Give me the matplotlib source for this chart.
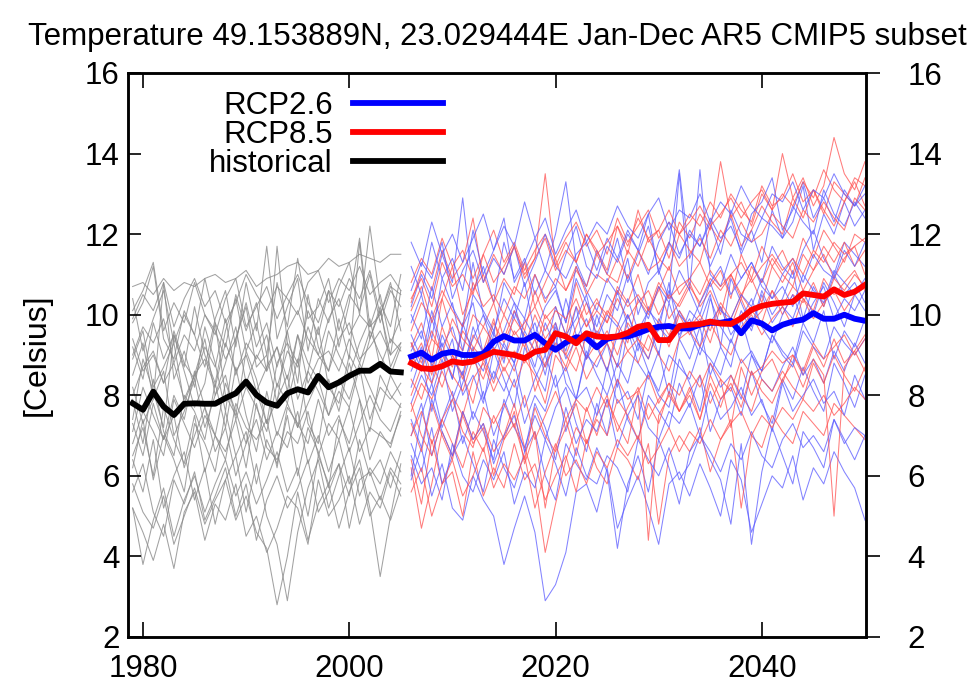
import numpy as np
import matplotlib
matplotlib.use("Agg")
import matplotlib.pyplot as plt

plt.rcParams['font.family'] = ['Liberation Sans', 'DejaVu Sans']

# ---------------- data ----------------
hist_years = list(range(1979, 2006))
rcp_years = list(range(2006, 2051))

hist_mean = [7.80, 7.64, 8.09, 7.72, 7.51, 7.79, 7.80, 7.79, 7.79, 7.93, 8.05, 8.34, 8.01, 7.82,
             7.74, 8.05, 8.15, 8.07, 8.48, 8.20, 8.32, 8.48, 8.61, 8.61, 8.78, 8.59, 8.57]

rcp26_mean = [8.96, 9.06, 8.88, 9.03, 9.08, 9.00, 9.00, 9.03, 9.33,
              9.47, 9.36, 9.36, 9.50, 9.29, 9.13, 9.31, 9.44, 9.42,
              9.19, 9.40, 9.46, 9.46, 9.54, 9.64, 9.70, 9.72, 9.66,
              9.66, 9.75, 9.80, 9.80, 9.85, 9.54, 9.86, 9.78, 9.61,
              9.75, 9.83, 9.88, 10.04, 9.90, 9.90, 10.00, 9.90, 9.85]

rcp85_mean = [8.80, 8.67, 8.65, 8.72, 8.84, 8.80, 8.84, 8.96, 9.08,
              9.04, 9.00, 8.92, 9.08, 9.13, 9.54, 9.46, 9.29, 9.54,
              9.46, 9.44, 9.46, 9.55, 9.70, 9.75, 9.37, 9.37, 9.72,
              9.75, 9.77, 9.83, 9.78, 9.77, 9.91, 10.12, 10.22, 10.27,
              10.30, 10.32, 10.53, 10.49, 10.45, 10.63, 10.49, 10.57, 10.74]

hist_members = [
    [10.7,10.8,10.5,10.9,10.6,10.8,10.7,10.9,11.0,10.8,10.9,11.1,10.7,10.9,11.0,11.2,11.3,11.0,11.1,11.4,11.2,11.3,11.5,11.4,11.3,11.5,11.5],
    [9.8,10.3,11.2,9.4,8.9,10.1,9.5,8.7,9.9,10.6,9.2,10.8,9.6,11.7,9.4,10.2,10.9,9.1,10.4,9.8,10.7,11.3,10.0,12.2,10.3,9.7,11.0],
    [8.5,9.3,7.9,10.8,8.4,9.1,8.2,9.7,8.8,7.6,9.4,10.2,8.7,9.0,7.8,9.6,8.3,10.5,9.2,8.6,9.9,8.9,11.8,9.4,10.1,9.0,10.6],
    [7.4,8.9,8.1,7.2,9.5,8.6,7.7,8.3,9.8,8.0,7.5,9.1,8.4,7.3,8.8,9.3,7.9,8.6,9.7,8.2,7.8,9.0,8.5,9.4,10.2,8.7,9.3],
    [7.9,6.8,8.4,7.1,6.5,8.0,7.6,6.9,8.3,7.2,8.7,7.5,6.6,8.1,7.0,7.8,8.9,7.3,6.8,8.4,7.6,8.8,7.9,7.1,8.5,8.0,7.7],
    [6.2,7.4,5.9,7.0,6.4,5.6,7.3,6.8,6.1,7.6,6.5,7.1,5.8,6.9,6.3,7.5,6.0,7.2,6.6,5.7,7.4,6.8,7.9,6.4,7.1,6.7,7.6],
    [5.2,4.6,3.9,4.8,3.7,5.1,5.6,4.4,5.3,4.9,5.8,4.5,5.0,4.1,4.7,5.5,5.2,4.3,5.9,5.0,5.4,6.0,4.8,5.6,5.2,6.1,5.5],
    [5.8,5.1,4.7,5.5,4.3,5.0,5.7,4.8,5.4,5.9,4.9,5.5,4.6,4.2,2.8,4.0,5.6,4.4,5.3,5.8,4.7,5.6,6.2,5.0,5.5,4.9,5.7],
    [6.4,5.6,6.9,5.2,6.0,6.6,5.4,6.2,4.8,5.9,6.5,5.1,6.3,5.0,4.3,2.9,4.6,5.7,6.4,5.2,6.0,6.7,5.5,6.2,5.8,6.6,6.1],
    [7.3,6.5,7.8,6.9,7.5,6.2,7.0,7.7,6.6,7.2,6.0,6.8,7.4,6.4,7.1,6.7,7.6,6.3,7.0,6.1,6.9,5.8,6.4,5.2,3.5,5.0,6.3],
    [9.2,8.4,9.8,8.9,9.5,8.7,10.2,9.0,8.3,9.6,10.4,9.1,9.8,8.6,11.7,9.3,8.8,10.1,9.5,10.6,9.2,10.3,11.9,9.7,10.0,10.8,9.6],
    [8.9,9.6,8.2,8.7,9.3,7.8,8.5,9.4,8.0,8.8,9.7,8.3,9.0,8.6,9.2,8.1,9.5,8.8,8.4,9.6,9.0,8.5,9.3,9.9,8.7,9.4,9.1],
    [8.2,7.3,7.9,8.6,7.0,7.6,8.4,7.2,8.0,8.5,7.4,8.2,7.7,7.1,8.3,7.8,7.2,8.6,8.1,7.5,8.4,7.9,8.8,8.2,7.6,8.5,8.0],
    [10.1,10.6,11.3,9.6,10.3,9.8,10.8,10.0,9.5,10.4,10.9,9.7,10.2,10.7,9.9,10.5,11.0,10.3,9.8,10.6,10.2,10.9,10.4,11.1,10.0,10.7,10.5],
    [5.2,3.8,4.9,5.7,4.5,5.4,6.0,5.1,5.8,6.4,5.5,6.1,5.3,5.9,6.6,5.6,6.2,5.0,6.5,5.8,6.3,5.5,6.9,6.0,6.4,5.7,6.6],
    [9.0,9.7,9.3,9.9,8.8,9.5,9.1,10.0,9.6,8.9,9.4,10.3,9.2,9.8,8.7,9.6,10.1,9.4,9.0,9.9,10.4,9.5,10.0,9.7,10.5,9.3,9.9],
    [6.8,7.6,7.1,6.5,7.9,7.3,6.7,7.5,7.0,6.4,7.8,7.2,6.9,7.4,6.2,7.7,7.3,6.8,7.9,7.0,7.5,6.6,7.3,8.0,7.4,7.1,7.8],
    [8.0,8.7,9.1,8.3,8.8,7.9,8.5,8.9,8.2,9.3,8.6,9.0,8.1,8.7,9.2,8.4,9.5,8.3,8.9,9.1,8.6,9.4,8.8,9.6,9.0,8.5,9.2],
    [7.1,8.2,7.5,6.9,8.0,7.4,8.6,7.7,7.0,8.3,7.6,6.8,8.1,7.3,7.9,8.5,7.2,7.8,8.4,7.5,8.1,7.7,8.7,7.4,8.2,7.9,8.3],
    [10.4,9.1,9.9,10.6,9.3,10.0,9.5,10.9,9.8,9.2,10.5,9.6,10.3,9.0,10.8,9.7,11.4,9.9,10.2,10.9,9.6,10.5,10.1,11.0,9.8,10.6,10.2],
    [6.5,7.2,6.0,7.7,6.9,6.3,7.5,6.1,7.0,6.6,7.4,6.2,7.8,6.7,6.4,7.1,6.8,7.6,6.5,7.3,6.9,7.7,6.6,7.2,7.0,6.8,7.5],
    [9.4,8.6,9.0,8.3,9.6,8.8,8.4,9.2,8.7,9.9,8.5,9.3,8.9,9.5,8.2,9.1,8.7,9.7,9.0,8.6,9.4,9.8,8.9,9.2,9.6,9.0,9.3],
    [5.6,6.3,5.1,4.5,5.9,5.3,6.1,4.9,5.5,6.2,5.0,5.8,4.4,5.4,6.0,5.2,5.7,6.4,5.1,5.6,6.3,4.7,5.9,6.1,5.4,6.2,5.8],
    [9.9,10.5,10.1,10.8,9.7,10.4,10.9,10.2,10.6,9.8,10.3,11.0,10.5,10.1,10.7,10.4,10.0,10.8,11.1,10.3,10.9,10.6,11.2,10.5,10.8,11.0,10.6],
]

rcp26_members = [
    [10.2,11.0,10.4,11.5,10.8,12.9,10.6,11.2,10.3, 11.8,10.9,11.4,10.5,11.1,12.0,13.3,11.3,10.7,
     11.6,11.0,11.9,10.8,11.5,12.2,11.1,11.7,13.6, 11.4,12.0,11.2,11.8,12.4,11.5,12.1,11.3,12.6,
     11.9,12.3,13.2,11.6,12.5,12.0,12.8,12.2,12.6],
    [9.3,8.6,9.9,9.1,8.4,9.7,10.3,9.0,9.6, 8.8,10.1,9.4,8.7,9.8,9.2,10.4,9.5,8.9,
     10.0,9.3,10.6,9.7,9.1,10.2,9.6,10.8,9.4, 10.1,9.8,10.5,9.2,10.9,10.3,9.7,10.6,10.0,
     10.4,11.1,9.9,10.7,10.2,11.0,10.5,10.8,10.3],
    [8.2,9.0,7.6,8.7,9.4,8.0,8.5,7.8,9.1, 8.4,7.7,9.2,8.6,8.1,9.5,8.3,7.9,9.0,
     8.7,9.3,8.2,9.6,8.8,8.4,9.1,8.0,9.4, 8.9,9.7,8.5,9.2,8.7,9.9,9.0,8.6,9.5,
     9.1,8.8,9.8,9.3,10.1,8.9,9.6,9.2,9.9],
    [7.0,7.8,6.5,7.4,8.1,6.8,7.6,7.1,6.4, 7.9,7.2,6.7,7.5,6.9,7.7,8.2,7.3,6.6,
     7.8,7.0,8.4,7.4,6.9,8.0,7.6,7.2,8.3, 7.7,8.5,7.1,7.9,8.2,7.5,8.6,7.8,7.3,
     8.4,7.9,8.7,8.1,7.6,8.8,8.3,7.7,8.5],
    [5.9,6.7,5.5,6.3,5.2,4.9,6.0,5.4,5.0, 3.8,4.7,5.5,4.6,2.9,3.3,4.1,5.6,5.8,
     5.1,6.2,4.7,5.4,6.0,5.2,4.3,5.8,6.1, 5.5,6.3,5.7,5.0,6.4,5.9,4.6,5.3,6.0,
     5.7,6.5,5.4,6.2,5.8,6.6,6.1,5.7,4.9],
    [6.8,6.1,7.2,5.8,6.5,7.0,6.3,5.6,6.9, 6.2,5.7,6.6,7.1,6.0,5.4,6.8,6.3,5.9,
     6.7,6.1,4.2,5.8,6.5,5.6,6.9,6.2,5.3, 6.6,7.0,6.4,5.9,4.8,6.8,4.3,6.1,7.2,
     6.5,5.8,7.1,6.7,6.2,7.4,6.9,6.4,7.0],
    [9.8,10.5,9.4,10.9,10.2,9.7,11.3,10.0,9.5, 10.8,10.3,9.9,11.0,10.4,10.7,9.8,11.2,10.6,
     10.1,10.9,10.5,11.4,10.0,10.8,11.1,10.4,13.5, 10.6,13.6,11.0,10.7,11.5,10.9,11.3,10.8,11.7,
     11.2,10.9,11.6,12.1,11.4,11.0,11.8,11.5,11.2],
    [9.1,9.6,8.7,9.3,8.4,9.8,9.0,8.6,9.5, 9.2,8.8,9.9,9.4,8.5,9.7,9.1,10.2,8.9,
     9.6,9.3,8.7,10.0,9.4,9.8,9.0,10.3,9.5, 9.9,9.2,10.4,9.7,9.3,10.1,9.6,10.5,9.8,
     10.2,9.9,10.6,10.0,10.8,10.3,9.7,10.5,10.1],
    [6.0,7.5,8.3,7.2,7.9,8.6,7.4,8.1,7.0, 7.7,8.4,7.3,8.0,7.6,8.5,7.1,7.9,8.2,
     7.5,8.7,7.8,8.1,7.4,8.6,8.0,7.7,8.9, 8.3,7.6,8.8,8.2,8.5,7.9,9.0,8.4,8.1,
     8.7,9.2,8.5,8.9,8.3,9.1,8.6,9.3,8.8],
    [10.6,11.3,10.9,11.8,10.4,11.1,11.6,10.8,11.4, 11.0,11.7,10.7,11.3,12.0,11.2,10.9,11.5,11.8,
     11.1,11.9,11.4,12.1,11.6,11.0,11.8,12.3,11.5, 12.0,11.7,12.4,11.9,12.2,11.6,12.5,12.8,13.4,
     12.1,12.6,13.3,12.4,12.9,12.3,13.1,12.7,13.0],
    [7.8,8.5,8.0,8.9,7.6,8.3,9.2,7.9,8.6, 8.1,8.8,7.7,8.4,9.0,8.2,8.7,7.9,9.1,
     8.5,8.0,8.8,8.3,9.3,8.6,8.1,9.0,8.7, 8.4,9.2,8.9,8.5,9.4,8.8,9.1,8.6,9.5,
     9.0,8.7,9.6,9.2,8.9,9.7,9.3,9.0,9.4],
    [10.0,9.4,10.7,9.7,10.3,9.1,10.5,10.1,9.6, 10.4,9.9,10.8,9.5,10.2,10.6,9.8,10.9,10.3,
     9.7,10.5,10.1,11.0,10.4,9.9,10.7,10.3,11.1, 10.6,10.0,10.8,11.2,10.5,10.9,11.3,10.7,10.4,
     11.0,11.4,10.8,11.5,11.1,10.9,11.6,11.2,11.8],
    [8.6,9.2,8.3,9.5,8.9,8.5,9.7,9.0,8.4, 9.3,8.8,9.6,9.1,8.7,9.8,8.9,9.4,9.9,
     9.2,8.6,9.5,10.0,9.3,8.9,9.7,9.4,10.1, 9.6,9.0,9.8,10.2,9.5,9.9,10.4,9.7,9.3,
     10.0,10.5,9.8,10.3,10.7,9.9,10.4,10.1,10.6],
    [7.4,6.7,7.9,7.1,6.5,7.6,6.9,7.3,6.3, 7.0,7.5,6.6,7.8,7.2,6.4,7.7,6.8,7.4,
     7.1,7.9,6.7,7.5,8.0,7.2,6.9,7.6,7.3, 7.8,7.0,8.1,7.4,7.7,8.2,7.5,7.9,7.1,
     8.3,7.6,8.0,8.4,7.8,8.1,7.5,8.5,7.9],
    [11.2,10.5,11.8,10.9,11.4,10.6,12.1,11.0,11.6, 12.4,10.8,11.3,11.9,11.1,10.7,11.5,12.2,11.2,
     10.9,11.7,11.3,12.0,11.6,12.5,11.0,11.8,11.4, 12.1,11.7,12.3,11.5,12.6,12.0,11.8,12.4,12.2,
     11.9,12.7,12.3,12.0,13.1,12.5,12.2,12.8,12.4],
    [6.5,5.8,6.2,5.4,6.8,6.0,5.6,6.4,5.9, 6.6,5.3,6.1,5.7,6.9,6.3,5.5,6.7,6.0,
     5.8,6.5,6.2,5.6,6.9,6.4,6.0,6.7,5.9, 6.3,7.0,6.6,6.1,6.8,6.4,7.1,6.5,6.2,
     6.9,7.3,6.7,7.0,6.6,7.4,6.8,7.2,7.0],
    [9.5,8.9,10.1,9.2,9.7,8.8,9.4,10.0,9.1, 9.6,10.3,9.3,9.8,9.0,10.2,9.5,9.9,10.5,
     9.4,10.0,9.7,10.4,9.6,10.1,9.8,10.6,10.0, 9.7,10.3,10.8,10.1,9.9,10.5,10.2,10.9,10.4,
     10.7,10.2,11.0,10.6,10.3,11.1,10.8,10.5,10.9],
    [11.8,11.2,12.3,11.5,12.0,11.3,11.9,12.5,11.6, 12.2,11.7,12.8,11.9,12.4,11.5,12.1,12.6,11.8,
     12.3,12.0,12.7,12.2,11.9,12.5,12.9,12.1,12.6, 12.4,13.0,12.3,12.8,12.5,13.2,12.7,12.4,13.0,
     12.8,13.3,12.6,13.1,12.9,13.5,13.0,12.7,13.2],
]

rcp85_members = [
    [10.3,11.1,10.6,11.6,10.9,11.3,12.4,10.8,11.5, 11.0,11.7,10.9,11.4,13.5,11.2,11.8,11.3,12.0,
     11.6,11.1,12.2,11.5,12.6,11.8,12.1,11.4,12.3, 11.9,12.5,12.1,13.8,12.4,12.8,12.2,13.0,12.6,
     14.0,12.9,13.4,12.7,13.2,14.4,13.5,13.1,13.8],
    [9.2,9.8,8.9,10.4,9.5,9.1,10.0,9.7,10.3, 9.4,10.1,9.6,10.6,9.9,10.2,9.5,10.8,10.0,
     10.4,9.8,10.7,10.3,11.0,10.1,10.6,11.2,10.5, 10.9,11.3,10.7,11.1,10.4,11.5,10.9,11.7,11.2,
     11.6,11.0,11.9,11.4,12.1,11.7,11.3,12.0,11.8],
    [8.4,7.9,8.8,8.2,9.0,8.5,7.8,8.9,8.3, 9.1,8.6,9.4,8.1,8.8,9.2,8.7,9.5,8.9,
     9.3,8.6,9.7,9.1,9.4,8.9,9.8,9.2,10.0, 9.5,9.9,9.3,10.2,9.7,10.4,9.8,10.1,10.6,
     10.0,10.5,10.3,10.8,10.2,10.9,10.6,11.0,10.7],
    [6.2,4.7,5.8,7.1,6.5,7.6,6.9,7.3,6.6, 7.0,7.8,6.7,5.9,4.1,5.3,6.4,7.2,6.8,
     7.5,8.0,7.1,7.7,8.2,7.4,7.9,8.3,7.6, 8.1,8.5,7.8,8.4,7.2,8.7,8.0,8.6,8.9,
     8.3,9.0,8.5,9.2,8.7,9.4,8.8,9.1,9.5],
    [6.4,5.3,6.9,5.8,6.1,5.0,6.6,5.5,6.2, 5.7,6.8,5.9,6.3,5.4,6.0,6.5,5.6,6.9,
     6.2,5.8,6.7,6.4,5.9,6.8,4.8,6.5,7.0, 6.6,7.2,6.1,6.9,7.4,5.2,7.0,6.7,7.5,
     7.1,6.8,7.6,7.3,7.0,7.8,7.5,7.2,6.9],
    [10.1,10.7,9.8,10.4,11.2,10.0,10.6,11.0,10.3, 10.9,10.5,11.3,10.2,10.8,11.4,10.6,11.1,10.7,
     11.5,11.0,10.8,11.6,11.2,11.9,11.4,11.1,12.0, 11.6,11.3,12.2,11.8,12.5,11.7,12.1,12.7,12.3,
     12.0,12.9,12.4,13.1,12.6,12.2,12.8,13.3,12.7],
    [9.0,8.6,9.4,9.1,8.7,9.6,9.2,8.9,9.8, 9.3,9.9,9.5,9.1,10.0,9.6,9.4,10.2,9.7,
     10.1,9.8,10.4,9.9,10.3,10.6,10.0,10.5,10.2, 10.7,10.3,10.9,10.6,11.0,10.4,11.2,10.8,11.4,
     11.0,10.7,11.5,11.1,11.7,11.3,11.8,11.2,11.6],
    [7.6,8.3,7.9,8.6,8.0,7.5,8.4,8.8,8.1, 8.7,8.2,8.9,8.5,7.8,9.0,8.6,9.2,8.4,
     8.9,9.3,8.7,9.1,8.8,9.5,9.0,8.6,9.4, 9.6,9.2,9.8,9.3,9.0,9.7,10.0,9.5,9.9,
     10.2,9.7,10.4,9.9,10.3,10.6,10.1,10.5,10.8],
    [10.8,11.4,11.0,11.9,11.2,11.6,10.9,11.5,12.1, 11.3,11.8,11.1,11.6,12.0,11.4,11.9,12.3,11.7,
     12.1,11.5,12.4,11.8,12.2,12.6,11.9,12.3,12.0, 12.5,12.2,12.8,12.4,13.0,12.6,12.3,13.2,12.7,
     12.9,13.5,12.8,13.1,12.5,13.3,13.0,12.7,13.4],
    [7.3,6.6,7.8,7.0,6.4,7.5,6.8,7.2,6.0, 6.9,7.6,6.3,7.1,5.2,6.7,7.4,6.5,7.7,
     7.0,7.9,7.3,6.8,8.1,4.4,7.5,8.0,7.6, 8.2,7.4,8.5,7.9,8.3,7.7,8.6,8.1,7.8,
     8.4,8.8,8.2,8.9,8.5,5.0,8.7,9.1,8.6],
    [8.8,9.3,8.5,9.7,9.0,8.4,9.5,9.1,9.9, 8.9,9.6,9.2,10.0,9.4,9.8,9.0,9.7,10.3,
     9.5,10.1,9.8,9.3,10.4,10.0,10.7,9.9,10.3, 10.8,10.2,10.6,10.0,11.0,10.5,10.9,10.3,11.2,
     10.8,11.3,10.6,11.1,11.5,10.9,11.4,11.7,11.0],
    [7.8,7.0,6.5,7.4,6.8,6.2,7.1,6.6,7.5, 6.9,7.3,6.4,7.7,7.0,6.6,7.2,7.8,6.8,
     7.4,7.0,7.9,7.5,6.9,7.8,7.3,8.1,7.6, 8.0,7.4,8.3,7.7,8.5,8.0,7.6,8.4,8.1,
     8.6,8.2,7.9,8.8,8.3,9.0,8.5,8.1,8.7],
    [9.6,10.3,9.9,10.6,10.1,9.7,10.8,10.2,10.5, 10.0,10.7,10.4,11.0,10.3,10.9,10.6,11.2,10.5,
     11.0,10.8,11.4,10.9,11.6,11.1,11.3,11.8,11.2, 11.5,11.9,11.4,12.1,11.7,12.3,11.8,12.0,12.5,
     12.2,11.9,12.6,12.3,12.8,12.4,12.1,12.9,12.6],
    [7.0,7.6,6.8,7.4,7.9,7.1,6.7,7.7,7.3, 7.8,7.2,8.0,6.9,7.5,8.1,7.4,7.9,7.6,
     8.2,7.7,8.4,7.9,8.1,8.5,7.8,8.3,8.0, 8.6,8.2,8.8,8.4,8.1,8.9,8.5,8.7,9.1,
     8.8,9.0,8.6,9.3,8.9,9.2,9.5,9.0,9.4],
    [8.0,8.7,8.3,9.0,8.5,8.1,8.9,8.4,9.2, 8.6,9.1,8.8,9.4,8.7,9.3,9.0,8.6,9.5,
     9.2,9.6,9.0,9.8,9.4,9.1,9.9,9.5,10.1, 9.7,10.0,9.6,10.3,9.9,10.5,10.1,9.8,10.6,
     10.2,10.7,10.4,10.1,10.9,10.5,10.8,11.1,10.6],
    [5.6,6.2,5.0,5.8,6.4,5.5,6.0,6.7,5.7, 6.3,5.9,6.5,5.2,6.1,6.8,6.0,6.4,5.8,
     6.6,6.2,6.9,6.5,7.0,6.3,6.7,7.2,6.6, 7.1,6.8,7.4,6.9,7.3,7.6,7.0,7.5,7.2,
     7.7,7.4,7.9,7.6,8.0,7.5,7.8,8.2,7.9],
    [10.4,10.9,10.2,11.3,10.7,11.0,10.5,11.5,10.8, 11.2,11.7,11.0,11.4,11.9,11.1,11.6,11.3,12.0,
     11.5,11.8,12.2,11.7,12.4,11.9,12.1,12.6,12.0, 12.3,12.7,12.2,12.5,12.9,12.4,12.8,13.1,12.6,
     13.0,12.7,13.3,12.9,13.6,13.1,12.8,13.4,13.2],
    [9.3,8.8,9.6,9.0,9.9,9.4,9.1,9.7,9.3, 10.0,9.5,9.8,10.2,9.6,10.1,9.9,10.4,9.7,
     10.3,10.0,10.6,10.2,10.5,10.1,10.8,10.4,10.7, 10.9,10.5,11.1,10.7,11.0,11.3,10.8,11.2,11.5,
     11.1,11.4,11.0,11.6,11.3,11.8,11.5,11.7,11.9],
]

legend_labels = ["RCP2.6", "RCP8.5", "historical"]
title = "Temperature 49.153889N, 23.029444E Jan-Dec AR5 CMIP5 subset"
ylabel = "[Celsius]"
yticks = [2, 4, 6, 8, 10, 12, 14, 16]
xticks = [1980, 2000, 2020, 2040]

# ---------------- plot ----------------
fig = plt.figure(figsize=(9.75, 6.84), dpi=100)
ax = fig.add_axes([128/975, 47/684, 738/975, 564/684])

for m in hist_members:
    ax.plot(hist_years, m, color='#8a8a8a', lw=0.75, alpha=0.8, zorder=1)
for b, r in zip(rcp26_members, rcp85_members):
    ax.plot(rcp_years, b, color='#5a5aff', lw=0.75, alpha=0.75, zorder=1)
    ax.plot(rcp_years, r, color='#ff5050', lw=0.75, alpha=0.75, zorder=1)

l26, = ax.plot(rcp_years, rcp26_mean, color='#0000ff', lw=4.2, zorder=3)
l85, = ax.plot(rcp_years, rcp85_mean, color='#ff0000', lw=4.2, zorder=4)
lh, = ax.plot(hist_years, hist_mean, color='#000000', lw=4.2, zorder=3)

ax.set_xlim(1978.55, 2050.1)
ax.set_ylim(2, 16)
ax.set_xticks(xticks)
ax.set_yticks(yticks)
ax.tick_params(axis='x', direction='in', length=11, width=1.2, top=True, labelsize=22.5, pad=12)
ax.tick_params(axis='y', direction='in', length=9, width=1.2, right=False, labelsize=22.5, pad=6)
for s in ax.spines.values():
    s.set_linewidth(1.8)

ax2 = ax.twinx()
ax2.set_ylim(2, 16)
ax2.set_yticks(yticks)
ax2.tick_params(axis='y', direction='out', length=10, width=1.2, labelsize=22.5, pad=20)
for s in ax2.spines.values():
    s.set_linewidth(1.8)

ax.set_title(title, fontsize=22.5, pad=20)
ax.set_ylabel(ylabel, fontsize=23, labelpad=24)

leg = ax.legend([l26, l85, lh], legend_labels, loc='upper right',
                bbox_to_anchor=(0.427, 0.968), frameon=False, markerfirst=False,
                fontsize=22.5, handlelength=2.9, handletextpad=0.64, labelspacing=-0.03,
                borderpad=0, borderaxespad=0)

fig.savefig("out.png", dpi=100)
